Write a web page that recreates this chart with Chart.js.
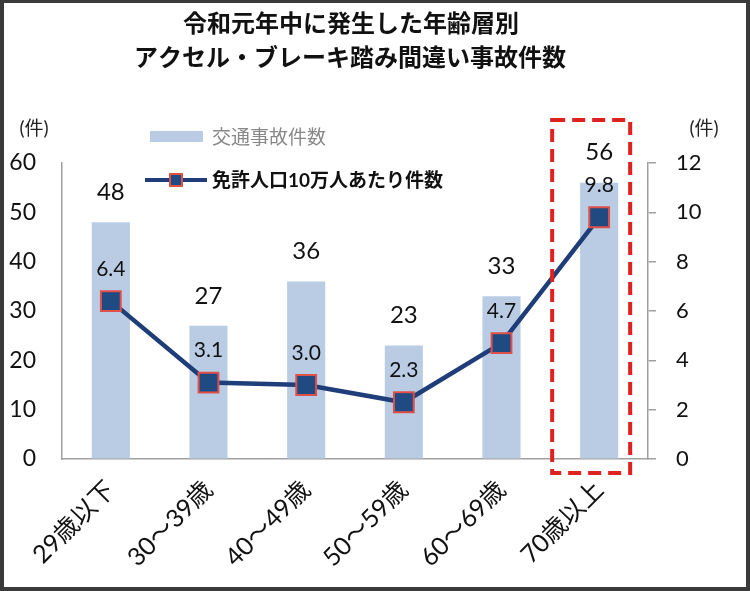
<!DOCTYPE html>
<html>
<head>
<meta charset="utf-8">
<script src="https://cdn.jsdelivr.net/npm/chart.js@4"></script>
<style>
  body { margin: 0; background: #fff; }
  #wrap { position: relative; width: 750px; height: 591px; }
  #frame { position: absolute; left: 0; top: 0; width: 750px; height: 591px; box-sizing: border-box;
           border: 4px solid #3a3a3a; border-top-width: 3px; pointer-events: none; }
</style>
</head>
<body>
<div id="wrap">
  <canvas id="graph-accidents" width="750" height="591"></canvas>
  <div id="frame"></div>
</div>
<script>
// 年齢層
const categories = ['29歳以下', '30～39歳', '40～49歳', '50～59歳', '60～69歳', '70歳以上'];
// 交通事故件数 (左軸)
const accidentCounts = [48, 27, 36, 23, 33, 56];
// 免許人口10万人あたり件数 (右軸)
const ratePer100k = [6.4, 3.1, 3.0, 2.3, 4.7, 9.8];
// 軸の目盛り
const leftTicks = [0, 10, 20, 30, 40, 50, 60];
const rightTicks = [0, 2, 4, 6, 8, 10, 12];

const titleLines = ['令和元年中に発生した年齢層別', 'アクセル・ブレーキ踏み間違い事故件数'];

const colorBar = '#B9CCE4';
const colorLine = '#1F3D78';
const colorMarker = '#1F4A82';
const colorMarkerBorder = '#E0504A';
const jp = "'Noto Sans CJK JP'";
const num = "Lato, 'Noto Sans CJK JP'";

// タイトル・凡例・単位・赤枠
const decorPlugin = {
    id: 'decor',
    afterDraw(chart) {
        const ctx = chart.ctx;
        const x = chart.scales.x;
        const area = chart.chartArea;
        ctx.save();
        // タイトル
        ctx.fillStyle = '#111';
        ctx.font = 'bold 24px ' + jp;
        ctx.textAlign = 'center';
        ctx.textBaseline = 'middle';
        ctx.fillText(titleLines[0], 351, 23);
        ctx.fillText(titleLines[1], 350, 57);

        // 単位
        ctx.font = '19px ' + num;
        ctx.fillStyle = '#222';
        ctx.fillText('(件)', 34, 129);
        ctx.fillText('(件)', 704, 129);

        // 凡例
        ctx.fillStyle = colorBar;
        ctx.fillRect(150, 131, 53, 11);
        ctx.textAlign = 'left';
        ctx.font = '19px ' + jp;
        ctx.fillStyle = '#888';
        ctx.fillText('交通事故件数', 212, 137);

        ctx.strokeStyle = colorLine;
        ctx.lineWidth = 4;
        ctx.beginPath();
        ctx.moveTo(145, 180);
        ctx.lineTo(207, 180);
        ctx.stroke();
        ctx.fillStyle = colorMarker;
        ctx.fillRect(170, 174, 12, 12);
        ctx.strokeStyle = colorMarkerBorder;
        ctx.lineWidth = 2;
        ctx.strokeRect(170, 174, 12, 12);
        ctx.font = 'bold 19px ' + num;
        ctx.fillStyle = '#111';
        ctx.fillText('免許人口10万人あたり件数', 212, 181);

        // 70歳以上を囲む赤い点線
        const cx = x.getPixelForValue(categories.length - 1);
        ctx.strokeStyle = '#E0221E';
        ctx.lineWidth = 4;
        ctx.setLineDash([13, 7]);
        ctx.strokeRect(cx - 47, 120, 78, area.bottom + 14 - 120);
        ctx.restore();
    }
};

// データラベル
const labelPlugin = {
    id: 'valueLabels',
    afterDatasetsDraw(chart) {
        const ctx = chart.ctx;
        ctx.save();
        ctx.textAlign = 'center';
        ctx.textBaseline = 'middle';
        ctx.fillStyle = '#111';
        chart.getDatasetMeta(0).data.forEach((bar, i) => {
            ctx.font = '24px ' + num;
            ctx.fillText(String(accidentCounts[i]), bar.x, bar.y - 30);
        });
        chart.getDatasetMeta(1).data.forEach((pt, i) => {
            ctx.font = '21px ' + num;
            ctx.fillText(ratePer100k[i].toFixed(1), pt.x, pt.y - 32);
        });
        ctx.restore();
    }
};

const canvas = document.getElementById('graph-accidents');

new Chart(canvas, {
    type: 'bar',
    data: {
        labels: categories,
        datasets: [
            {
                label: '交通事故件数',
                data: accidentCounts,
                backgroundColor: colorBar,
                yAxisID: 'y',
                order: 2,
                categoryPercentage: 1,
                barPercentage: 0.39
            },
            {
                type: 'line',
                label: '免許人口10万人あたり件数',
                data: ratePer100k,
                yAxisID: 'y2',
                order: 1,
                borderColor: colorLine,
                borderWidth: 4.5,
                pointStyle: 'rect',
                pointRadius: 14,
                pointBackgroundColor: colorMarker,
                pointBorderColor: colorMarkerBorder,
                pointBorderWidth: 2,
                tension: 0
            }
        ]
    },
    options: {
        responsive: false,
        animation: false,
        layout: { padding: { top: 163, left: 0, right: 0, bottom: 0 } },
        plugins: {
            legend: { display: false },
            tooltip: { enabled: false }
        },
        scales: {
            x: {
                grid: { display: false, drawTicks: false },
                border: { display: true, color: '#a0a0a0', width: 1.5 },
                ticks: {
                    color: '#111',
                    font: { family: num, size: 25 },
                    maxRotation: 45,
                    minRotation: 45,
                    padding: 16
                },
                afterFit(scale) { scale.height = 132; }
            },
            y: {
                position: 'left',
                min: 0,
                max: 60,
                afterBuildTicks(scale) { scale.ticks = leftTicks.map(v => ({ value: v })); },
                grid: { drawOnChartArea: false, drawTicks: false },
                border: { display: true, color: '#a0a0a0', width: 1.5 },
                ticks: {
                    color: '#111',
                    font: { family: num, size: 23 },
                    padding: 26
                },
                afterFit(scale) { scale.width = 62; }
            },
            y2: {
                position: 'right',
                min: 0,
                max: 12,
                afterBuildTicks(scale) { scale.ticks = rightTicks.map(v => ({ value: v })); },
                grid: { drawOnChartArea: false, drawTicks: true, tickLength: 8, color: '#a0a0a0', lineWidth: 1.5 },
                border: { display: true, color: '#a0a0a0', width: 1.5 },
                ticks: {
                    color: '#111',
                    font: { family: num, size: 22 },
                    padding: 20
                },
                afterFit(scale) { scale.width = 102; }
            }
        }
    },
    plugins: [labelPlugin, decorPlugin]
});
</script>
</body>
</html>
